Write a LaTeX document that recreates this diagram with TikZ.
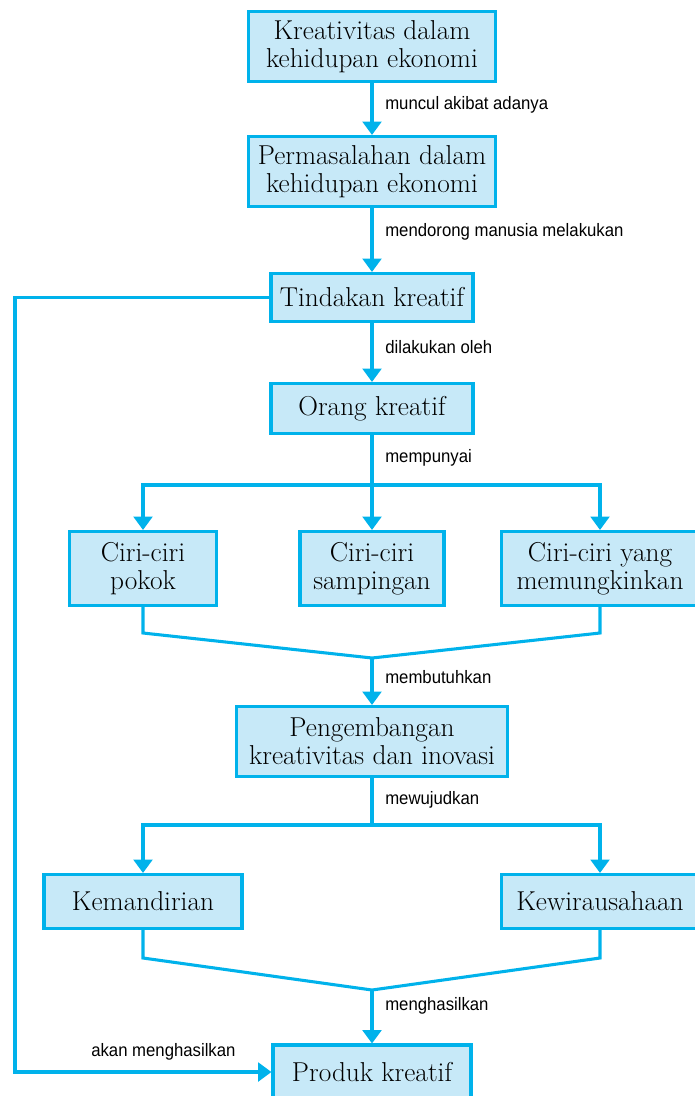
\documentclass[tikz,border=0pt]{standalone}
\usepackage{fontspec}
\newfontfamily\ketfont[FakeStretch=0.93]{Liberation Sans}
\usetikzlibrary{arrows.meta,calc}
\definecolor{kotakbiru}{RGB}{199,233,248}
\definecolor{garisbiru}{RGB}{0,178,235}

\begin{document}
\begin{tikzpicture}[
            x=0.75pt, y=-0.75pt,
            >={Triangle[width=14pt,length=10pt]},
            box/.style={draw=garisbiru, fill=kotakbiru, line width=2.3pt, inner sep=0pt, align=center, font=\fontsize{20.5}{21}\selectfont},
            ket/.style={font=\ketfont\fontsize{13.5}{15}\selectfont, anchor=west, inner sep=0pt},
            hub/.style={draw=garisbiru, line width=2.3pt},
        ]
            \useasboundingbox (0,0) rectangle (695,1096);

            \node[box, minimum width=185pt, minimum height=52.5pt] (kreativitas) at (372,46.5) {Kreativitas dalam\\kehidupan ekonomi};
            \node[box, minimum width=185pt, minimum height=52.5pt] (masalah) at (372,171.5) {Permasalahan dalam\\kehidupan ekonomi};
            \node[box, minimum width=151.5pt, minimum height=36pt] (tindakan) at (372,297.5) {Tindakan kreatif};
            \node[box, minimum width=151.5pt, minimum height=37.5pt] (orang) at (372,408.5) {Orang kreatif};
            \node[box, minimum width=110pt, minimum height=55.5pt] (pokok) at (143,568.5) {Ciri-ciri\\pokok};
            \node[box, minimum width=108pt, minimum height=55.5pt] (sampingan) at (372,568.5) {Ciri-ciri\\sampingan};
            \node[box, minimum width=148pt, minimum height=55.5pt] (memungkinkan) at (600,568.5) {Ciri-ciri yang\\memungkinkan};
            \node[box, minimum width=203pt, minimum height=52.5pt] (pengembangan) at (372,741.5) {Pengembangan\\kreativitas dan inovasi};
            \node[box, minimum width=148.5pt, minimum height=40.5pt] (kemandirian) at (143,901.5) {Kemandirian};
            \node[box, minimum width=148pt, minimum height=40.5pt] (kewirausahaan) at (600,901.5) {Kewirausahaan};
            \node[box, minimum width=148.5pt, minimum height=40.5pt] (produk) at (372,1072) {Produk kreatif};

            \coordinate (cabang1) at (372,485);
            \coordinate (temu1) at (372,658);
            \coordinate (cabang2) at (372,825);
            \coordinate (temu2) at (372,990);
            \coordinate (kiri) at (15,297.5);

            \draw[hub,->] (kreativitas) -- (masalah);
            \draw[hub,->] (masalah) -- (tindakan);
            \draw[hub,->] (tindakan) -- (orang);
            \draw[hub] (orang) -- (cabang1);
            \draw[hub,->] (cabang1) -| (pokok);
            \draw[hub,->] (cabang1) -- (sampingan);
            \draw[hub,->] (cabang1) -| (memungkinkan);
            \draw[hub,line join=miter] (pokok.south) -- (143,633) -- (temu1) -- (600,633) -- (memungkinkan.south);
            \draw[hub,->] (temu1) -- (pengembangan);
            \draw[hub] (pengembangan) -- (cabang2);
            \draw[hub,->] (cabang2) -| (kemandirian);
            \draw[hub,->] (cabang2) -| (kewirausahaan);
            \draw[hub,line join=miter] (kemandirian.south) -- (143,958) -- (temu2) -- (600,958) -- (kewirausahaan.south);
            \draw[hub,->] (temu2) -- (produk);
            \draw[hub,->] (tindakan.west) -- (kiri) |- (produk.west);

            \node[ket] (ket1) at (385,105) {muncul akibat adanya};
            \node[ket] (ket2) at (385,232) {mendorong manusia melakukan};
            \node[ket] (ket3) at (385,347) {dilakukan oleh};
            \node[ket] (ket4) at (385,458) {mempunyai};
            \node[ket] (ket5) at (385,677) {membutuhkan};
            \node[ket] (ket6) at (385,800) {mewujudkan};
            \node[ket] (ket7) at (385,1006) {menghasilkan};
            \node[ket] (ket8) at (91,1052) {akan menghasilkan};
        \end{tikzpicture}
\end{document}
